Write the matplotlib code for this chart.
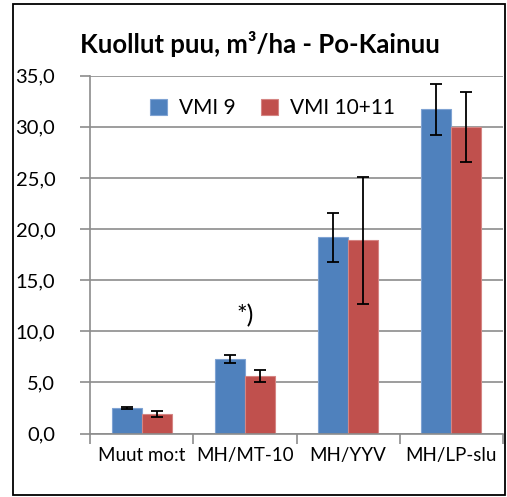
import numpy as np
import matplotlib.pyplot as plt
from matplotlib.patches import Rectangle

plt.rcParams['font.family'] = ['Lato', 'DejaVu Sans']

categories = ["Muut mo:t", "MH/MT-10", "MH/YYV", "MH/LP-slu"]
vmi9 = [2.5, 7.3, 19.2, 31.7]
vmi9_err = [0.1, 0.4, 2.4, 2.5]
vmi1011 = [1.9, 5.6, 18.9, 30.0]
vmi1011_err = [0.3, 0.6, 6.2, 3.4]
yticks = np.arange(0, 36, 5)

fig = plt.figure(figsize=(5.07, 4.97), dpi=100)
fig.patches.append(Rectangle((13 / 507, 2 / 497), 492 / 507, 491 / 497, transform=fig.transFigure,
                             fill=False, edgecolor="black", linewidth=1.3))
ax = fig.add_axes([90 / 507, 1 - 433.5 / 497, 413 / 507, (433.5 - 75.7) / 497])

x = np.arange(len(categories))
w = 0.29
ax.bar(x - w / 2, vmi9, w, color="#4F81BD", edgecolor="#7FA3D3", linewidth=0.8, label="VMI 9", zorder=2)
ax.bar(x + w / 2, vmi1011, w, color="#C0504D", edgecolor="#D58583", linewidth=0.8, label="VMI 10+11", zorder=2)
ax.errorbar(x - w / 2, vmi9, yerr=vmi9_err, fmt="none", ecolor="black", elinewidth=1.3, capsize=4.5, capthick=1.3, zorder=3)
ax.errorbar(x + w / 2, vmi1011, yerr=vmi1011_err, fmt="none", ecolor="black", elinewidth=1.3, capsize=4.5, capthick=1.3, zorder=3)

ax.set_xlim(-0.5, 3.5)
ax.set_ylim(0, 35)
ax.set_yticks(yticks)
ax.set_yticklabels([f"{t:.1f}".replace(".", ",") for t in yticks], fontsize=14.5)
ax.yaxis.grid(True, color="#8C8C8C", linewidth=1.2, zorder=0)
ax.set_axisbelow(True)

ax.set_xticks(np.arange(-0.5, 4, 1))
ax.set_xticklabels([])
ax.set_xticks(x, minor=True)
ax.set_xticklabels(categories, minor=True, fontsize=13.5)
ax.tick_params(axis="x", which="minor", length=0, pad=10)
ax.tick_params(axis="x", which="major", length=7, color="#8C8C8C", width=1.2)
ax.tick_params(axis="y", length=7, color="#8C8C8C", width=1.2, pad=18)

for s in ["top", "right"]:
    ax.spines[s].set_visible(False)
for s in ["left", "bottom"]:
    ax.spines[s].set_color("#8C8C8C")
    ax.spines[s].set_linewidth(1.2)

ax.text(1, 10.4, "*)", ha="center", va="bottom", fontsize=18)

ax.legend(loc="upper left", bbox_to_anchor=(0.1, 0.99), ncol=2, frameon=False, fontsize=15,
          handlelength=0.8, handleheight=0.8, handletextpad=0.6, columnspacing=1.2)

fig.text(80 / 507, 1 - 44 / 497, "Kuollut puu, m³/ha - Po-Kainuu", fontsize=18.5, fontweight="bold", va="center")

fig.savefig("out.png", dpi=100)
